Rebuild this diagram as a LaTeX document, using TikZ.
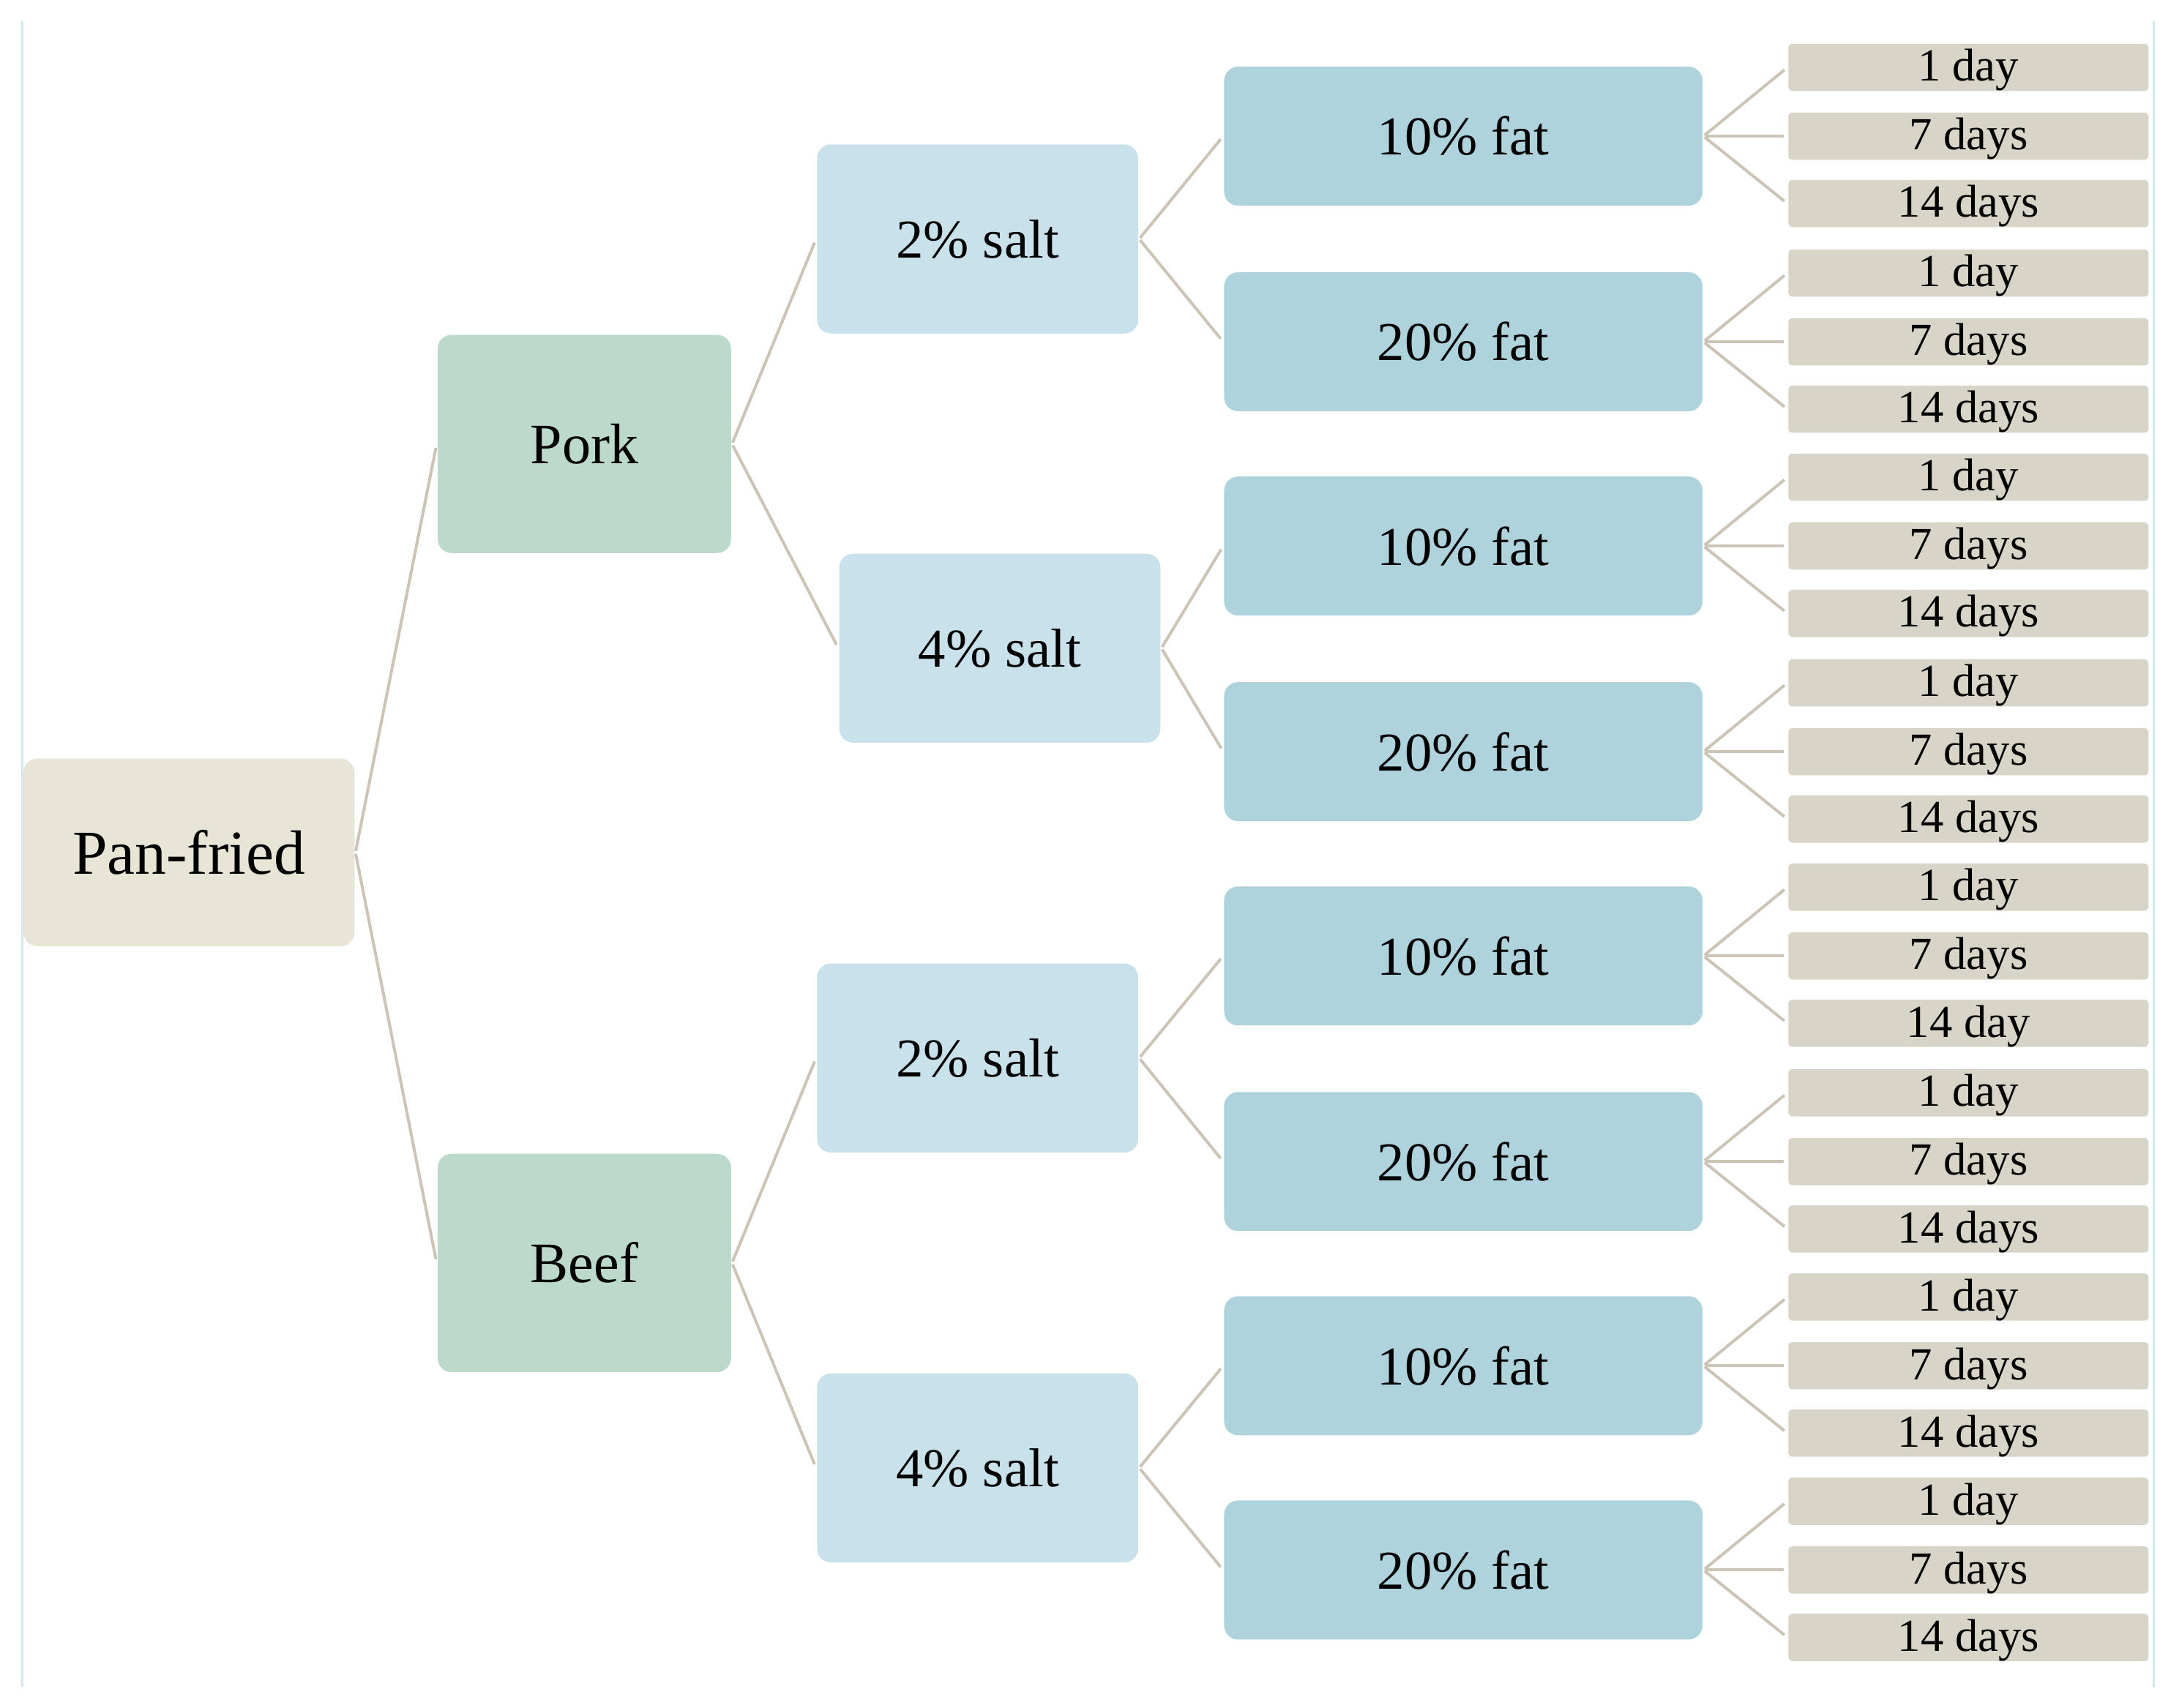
\documentclass[tikz,border=0pt]{standalone}
\usepackage{fontspec}
\setmainfont{Liberation Serif}
\definecolor{rootc}{HTML}{E8E4D6}
\definecolor{meatc}{HTML}{BBDACB}
\definecolor{saltc}{HTML}{C9E1EA}
\definecolor{fatc}{HTML}{AED3DC}
\definecolor{leafc}{HTML}{D8D4C7}
\definecolor{connc}{HTML}{CCC4B7}
\definecolor{framec}{HTML}{D3E7F1}
\begin{document}
\begin{tikzpicture}[x=0.01cm,y=-0.01cm,
  box/.style={draw=none, rounded corners=1mm, inner sep=0pt, align=center, text=black},
  rootbox/.style={box, fill=rootc, minimum width=2.38cm, minimum height=1.35cm, font=\fontsize{12.8}{15}\selectfont},
  meatbox/.style={box, fill=meatc, minimum width=2.11cm, minimum height=1.57cm, font=\fontsize{11.7}{14}\selectfont},
  saltbox/.style={box, fill=saltc, minimum width=2.31cm, minimum height=1.36cm, font=\fontsize{11.2}{13}\selectfont},
  fatbox/.style={box, fill=fatc, minimum width=3.44cm, minimum height=1.0cm, font=\fontsize{11.2}{13}\selectfont},
  leafbox/.style={box, rounded corners=0.3mm, fill=leafc, minimum width=2.59cm, minimum height=0.34cm, font=\fontsize{9.4}{11}\selectfont, text height=7.6pt, text depth=2.0pt},
  conn/.style={draw=connc, line width=0.6pt, shorten <=0.3pt, shorten >=0.8pt},
  frameline/.style={draw=framec, line width=0.5pt}
]
\useasboundingbox (0,0) rectangle (1568,1229);
\fill[white] (0,0) rectangle (1568,1229);

% frame lines
\coordinate (fl1) at (16,15);
\coordinate (fl2) at (16,1214);
\coordinate (fr1) at (1550,15);
\coordinate (fr2) at (1550,1214);
\draw[frameline] (fl1) -- (fl2);
\draw[frameline] (fr1) -- (fr2);

% root and meats
\node[rootbox] (root) at (136,613.5) {Pan-fried};
\node[meatbox] (pork) at (420.5,319.5) {Pork};
\node[meatbox] (beef) at (420.5,909) {Beef};

% salts
\node[saltbox] (s1) at (703.5,172) {2\% salt};
\node[saltbox] (s2) at (719.5,466.5) {4\% salt};
\node[saltbox] (s3) at (703.5,761.5) {2\% salt};
\node[saltbox] (s4) at (703.5,1056.5) {4\% salt};

\draw[conn] (root.east) -- (pork.west);
\draw[conn] (root.east) -- (beef.west);
\draw[conn] (pork.east) -- (s1.west);
\draw[conn] (pork.east) -- (s2.west);
\draw[conn] (beef.east) -- (s3.west);
\draw[conn] (beef.east) -- (s4.west);

% fats and leaves
\foreach \i/\y/\lab/\pp/\third in {
  1/98/10/s1/14 days, 2/246/20/s1/14 days,
  3/393/10/s2/14 days, 4/541/20/s2/14 days,
  5/688/10/s3/14 day,  6/836/20/s3/14 days,
  7/983/10/s4/14 days, 8/1130/20/s4/14 days} {
  \node[fatbox] (f\i) at (1053,\y) {\lab\% fat};
  \draw[conn] (\pp.east) -- (f\i.west);
  \node[leafbox] (l\i-1) at (1416.5,\y-49.5) {1 day};
  \node[leafbox] (l\i-2) at (1416.5,\y) {7 days};
  \node[leafbox] (l\i-3) at (1416.5,\y+48.5) {\third};
  \draw[conn] (f\i.east) -- (l\i-1.west);
  \draw[conn] (f\i.east) -- (l\i-2.west);
  \draw[conn] (f\i.east) -- (l\i-3.west);
}
\end{tikzpicture}
\end{document}
